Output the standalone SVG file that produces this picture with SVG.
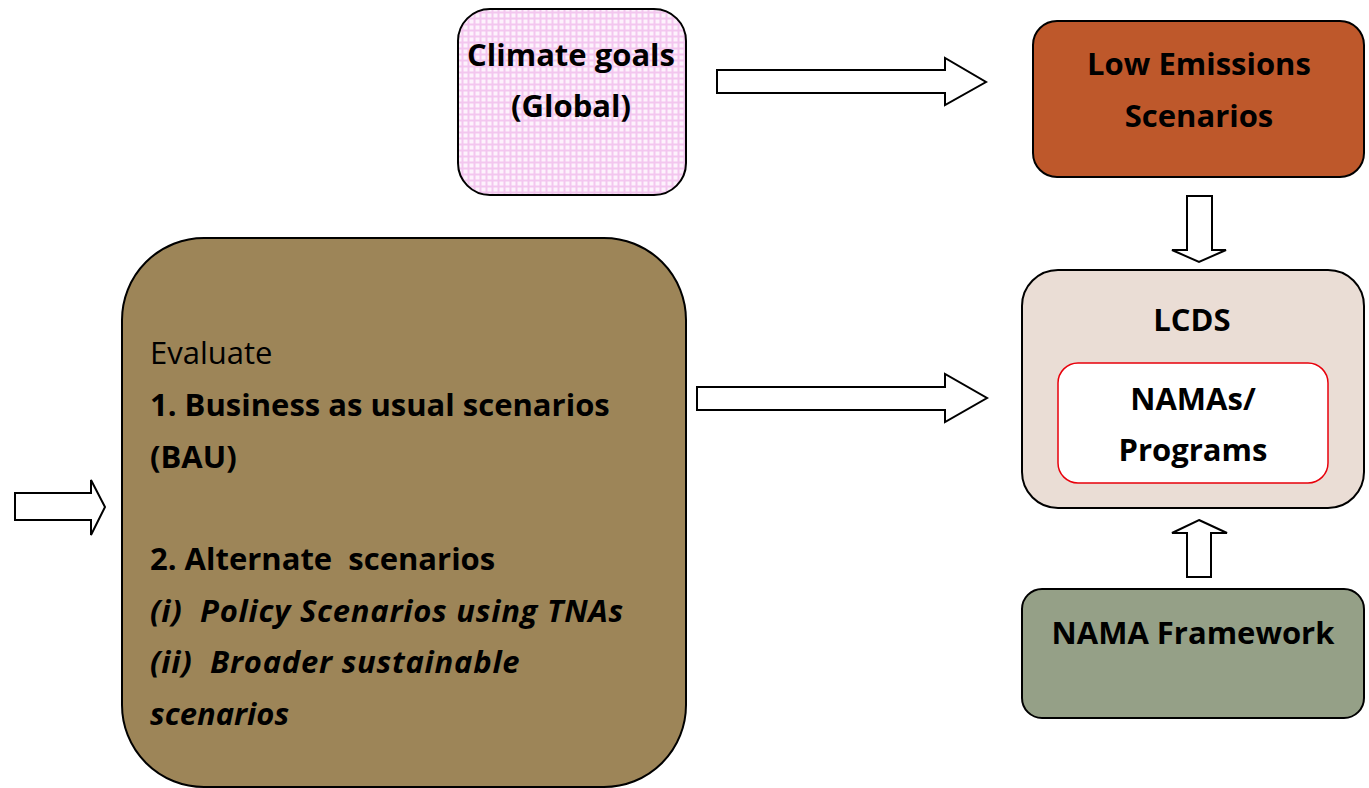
<svg xmlns="http://www.w3.org/2000/svg" width="1369" height="788" viewBox="0 0 1369 788">
<defs>
<pattern id="grid" x="0" y="0" width="6" height="6" patternUnits="userSpaceOnUse">
<rect width="6" height="6" fill="#f3c6ef"/>
<rect x="1.5" y="1.5" width="4" height="4" fill="#fdf2fc"/>
</pattern>
<style>
.box{stroke:#000;stroke-width:2}
.arr{fill:#fff;stroke:#000;stroke-width:2;stroke-linejoin:miter}
.t{font-family:"Open Sans","Noto Sans",sans-serif;font-weight:bold;font-size:31px;fill:#000}
.c{text-anchor:middle}
.n{font-weight:normal}
.i{font-style:italic}
.w{letter-spacing:0.75px}
</style>
</defs>
<rect width="1369" height="788" fill="#fff"/>
<g id="connectors">
<polygon class="arr" points="717,70 945,70 945,58 986,82 945,105 945,93 717,93"/>
<polygon class="arr" points="697,387 945,387 945,374 987,398 945,422 945,410 697,410"/>
<polygon class="arr" points="15,493 91,493 91,480 105,507 91,535 91,520 15,520"/>
<polygon class="arr" points="1187,196 1212,196 1212,250 1226,250 1199,262 1172,250 1187,250"/>
<polygon class="arr" points="1199,520 1227,533 1211,533 1211,577 1187,577 1187,533 1172,533"/>
</g>
<g id="climate">
<rect class="box" x="458" y="9" width="228" height="186" rx="32" fill="url(#grid)"/>
<text class="t c" x="571" y="66">Climate goals</text>
<text class="t c" x="571" y="117">(Global)</text>
</g>
<g id="low">
<rect class="box" x="1033" y="21" width="331" height="156" rx="24" fill="#be582b"/>
<text class="t c" x="1199" y="75">Low Emissions</text>
<text class="t c" x="1199" y="127">Scenarios</text>
</g>
<g id="lcds">
<rect class="box" x="1022" y="270" width="342" height="238" rx="36" fill="#eaddd5"/>
<text class="t c" x="1192" y="331">LCDS</text>
</g>
<g id="namas">
<rect x="1058" y="363" width="270" height="120" rx="20" fill="#fff" stroke="#e8000b" stroke-width="1.5"/>
<text class="t c" x="1193" y="410">NAMAs/</text>
<text class="t c" x="1193" y="461">Programs</text>
</g>
<g id="framework">
<rect class="box" x="1022" y="589" width="342" height="129" rx="20" fill="#95a087"/>
<text class="t c" x="1193" y="644">NAMA Framework</text>
</g>
<g id="evaluate">
<rect class="box" x="122" y="238" width="564" height="549" rx="82" fill="#9d8558"/>
<text class="t n" x="150" y="364">Evaluate</text>
<text class="t" x="150" y="416">1. Business as usual scenarios</text>
<text class="t" x="150" y="468">(BAU)</text>
<text class="t" x="150" y="570" xml:space="preserve">2. Alternate  scenarios</text>
<text class="t i w" x="150" y="622" xml:space="preserve">(i)  Policy Scenarios using TNAs</text>
<text class="t i w" x="150" y="673" xml:space="preserve">(ii)  Broader sustainable</text>
<text class="t i" x="150" y="725">scenarios</text>
</g>
</svg>
